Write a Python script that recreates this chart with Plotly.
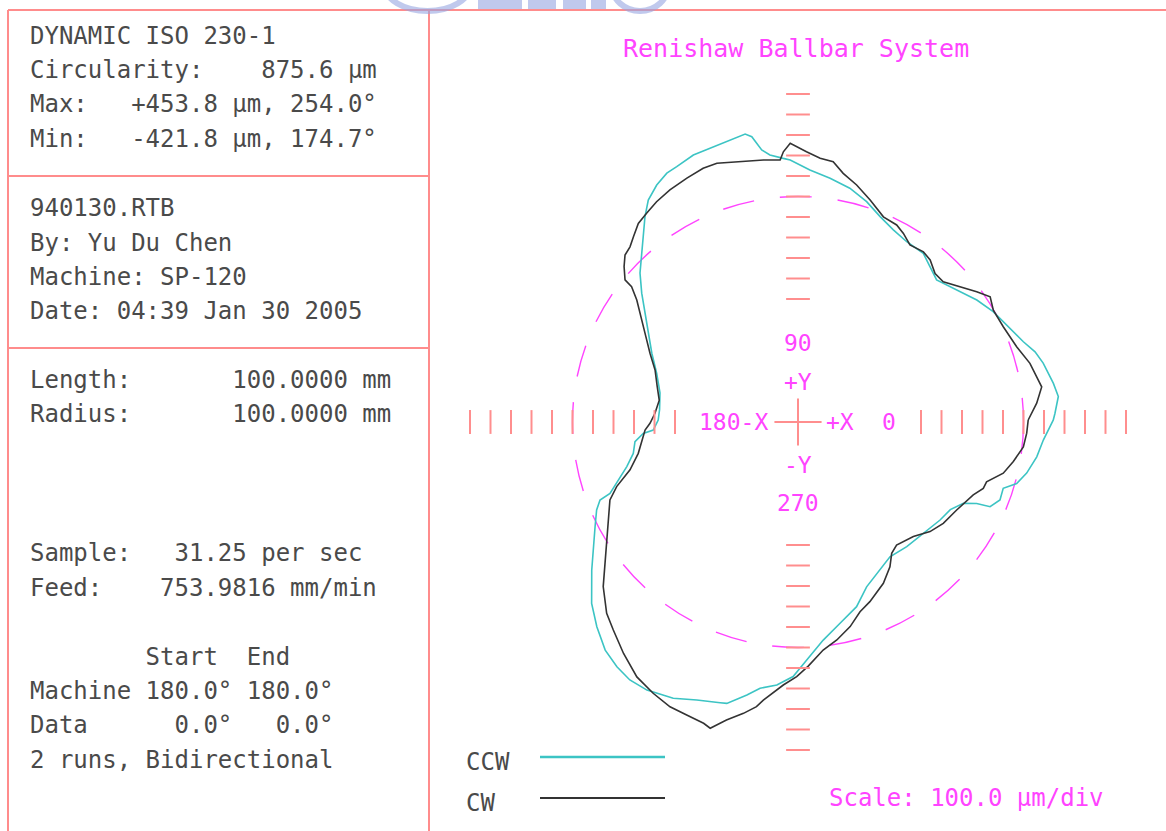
import numpy as np
import plotly.graph_objects as go

W, H = 1166, 831

# ---------------- data ----------------
# radial error in micrometres versus angle in degrees
ccw_angle = [0.4, 1.9, 5.6, 8.6, 13.5, 16.5, 19.6, 24.9, 29.5, 34.3,
             39.7, 45.7, 49.6, 53.4, 58.9, 63.6, 68.2, 72.7, 77.5, 82.5,
             87.3, 91.7, 93.2, 96.0, 97.6, 99.2, 100.4, 103.6, 107.8, 111.4,
             115.4, 117.8, 120.8, 124.0, 126.7, 129.3, 132.8, 136.7, 140.5, 144.6,
             149.4, 154.8, 161.0, 168.1, 174.9, 179.2, 183.2, 184.2, 186.9, 190.8,
             194.6, 198.7, 200.8, 201.5, 203.6, 207.3, 211.4, 215.7, 221.3, 225.5,
             229.8, 233.5, 236.9, 240.6, 245.7, 250.0, 254.5, 255.8, 259.4, 261.9,
             265.4, 268.9, 272.1, 276.6, 281.8, 287.6, 292.6, 297.5, 304.3, 311.1,
             318.4, 325.4, 330.1, 333.8, 335.5, 336.2, 338.9, 342.1, 344.3, 347.4,
             351.7, 355.8]
ccw_error = [145, 154, 176, 160, 130, 106, 67, 22, -6, -44,
             -93, -132, -106, -75, -73, -54, -21, 26, 68, 99,
             131, 179, 188, 210, 239, 310, 328, 315, 302, 299,
             279, 272, 246, 206, 149, 90, 22, -41, -112, -184,
             -251, -312, -371, -412, -422, -418, -393, -343, -299, -282,
             -237, -166, -119, -62, -28, 14, 69, 139, 240, 300,
             357, 385, 402, 401, 379, 343, 321, 316, 255, 212,
             187, 142, 62, -29, -97, -155, -229, -268, -304, -293,
             -282, -258, -243, -201, -142, -76, -44, -48, 8, 43,
             77, 100]

cw_angle = [0.5, 1.3, 4.5, 8.2, 14.2, 19.0, 24.9, 29.8, 33.1, 36.1,
            39.9, 44.0, 47.3, 50.8, 53.6, 57.7, 60.8, 63.4, 67.4, 72.0,
            76.1, 79.7, 82.3, 85.2, 88.2, 91.6, 93.1, 93.9, 97.5, 101.9,
            107.4, 110.5, 114.5, 118.9, 122.7, 125.9, 128.8, 131.6, 133.8, 136.0,
            138.2, 140.6, 140.9, 142.9, 145.5, 148.4, 151.5, 155.1, 160.0, 165.9,
            171.1, 176.5, 180.5, 183.0, 186.6, 191.1, 195.9, 199.6, 202.5, 207.3,
            211.7, 215.6, 220.2, 225.0, 228.4, 233.0, 237.7, 241.9, 245.8, 249.2,
            252.6, 254.0, 256.5, 259.4, 261.7, 262.9, 264.5, 266.8, 269.7, 272.4,
            276.3, 280.1, 284.3, 288.1, 291.8, 297.9, 302.4, 305.5, 308.7, 315.2,
            320.3, 325.1, 331.0, 337.4, 340.3, 342.4, 346.0, 349.6, 353.7, 357.2]
cw_error = [23, 32, 68, 101, 67, 28, 4, -2, 19, -21,
            -70, -115, -114, -80, -69, -78, -46, -25, -16, 39,
            91, 133, 181, 191, 219, 260, 220, 181, 189, 198,
            223, 221, 207, 193, 177, 158, 143, 109, 84, 73,
            38, -8, -54, -114, -164, -214, -260, -304, -358, -392,
            -415, -401, -378, -353, -333, -306, -248, -161, -107, -59,
            -3, 58, 144, 220, 257, 314, 371, 400, 423, 429,
            440, 454, 395, 346, 303, 267, 230, 185, 142, 92,
            19, -20, -70, -126, -156, -210, -263, -313, -331, -307,
            -263, -236, -215, -174, -140, -135, -68, -32, 6, 17]

series_names = ["CCW", "CW"]
scale_um_per_div = 100.0
reference_divs = 11            # nominal circle drawn at 11 divisions
tick_divs = list(range(6, 17))  # graduation marks on each half-axis
angle_labels = ["0", "90", "180", "270"]

info_block_1 = ["DYNAMIC ISO 230-1",
                "Circularity:    875.6 µm",
                "Max:   +453.8 µm, 254.0°",
                "Min:   -421.8 µm, 174.7°"]
info_block_2 = ["940130.RTB",
                "By: Yu Du Chen",
                "Machine: SP-120",
                "Date: 04:39 Jan 30 2005"]
info_block_3 = ["Length:       100.0000 mm",
                "Radius:       100.0000 mm",
                "Sample:   31.25 per sec",
                "Feed:    753.9816 mm/min",
                "        Start  End",
                "Machine 180.0° 180.0°",
                "Data      0.0°   0.0°",
                "2 runs, Bidirectional"]
title_text = "Renishaw Ballbar System"
scale_text = "Scale: 100.0 µm/div"

# ---------------- styling ----------------
FONT = "DejaVu Sans Mono"
MAG = "#ff44ff"
TICK = "#ff8e8e"
FRAME = "#ff8c8c"
GREY = "#4a4a4a"
CYAN = "#3cc4c4"
DARK = "#333333"

PX_PER_UNIT = 0.205            # 100 units (1 div) = 20.5 px
CX, CY = 798, 422              # pixel position of centre
x_lo = (430 - CX) / PX_PER_UNIT
x_hi = (W - CX) / PX_PER_UNIT
y_hi = CY / PX_PER_UNIT
y_lo = -(H - CY) / PX_PER_UNIT
R0 = reference_divs * scale_um_per_div


def to_xy(angle, err):
    a = np.deg2rad(np.asarray(angle + angle[:1], dtype=float))
    r = R0 + np.asarray(err + err[:1], dtype=float)
    return r * np.cos(a), r * np.sin(a)


fig = go.Figure()
for name, ang, err, col, wd in [("CCW", ccw_angle, ccw_error, CYAN, 1.6),
                                 ("CW", cw_angle, cw_error, DARK, 1.6)]:
    x, y = to_xy(ang, err)
    fig.add_trace(go.Scatter(x=x, y=y, mode="lines", name=name,
                             line=dict(color=col, width=wd),
                             showlegend=False, hoverinfo="skip"))

shapes = []
# nominal (reference) circle
shapes.append(dict(type="circle", xref="x", yref="y", x0=-R0, x1=R0, y0=-R0, y1=R0,
                   line=dict(color=MAG, width=1.4, dash="32px,26px"), layer="below"))
# graduation marks
half = 58
for d in tick_divs:
    v = d * scale_um_per_div
    for s in (-1, 1):
        shapes.append(dict(type="line", xref="x", yref="y", x0=s * v, x1=s * v,
                           y0=-half, y1=half, line=dict(color=TICK, width=2)))
        shapes.append(dict(type="line", xref="x", yref="y", y0=s * v, y1=s * v,
                           x0=-half, x1=half, line=dict(color=TICK, width=2)))
# centre cross
cross = 115
shapes.append(dict(type="line", xref="x", yref="y", x0=-cross, x1=cross, y0=0, y1=0,
                   line=dict(color=TICK, width=2)))
shapes.append(dict(type="line", xref="x", yref="y", x0=0, x1=0, y0=-cross, y1=cross,
                   line=dict(color=TICK, width=2)))


def pline(x0, y0, x1, y1, color, width):
    shapes.append(dict(type="line", xref="paper", yref="paper",
                       x0=x0 / W, x1=x1 / W, y0=1 - y0 / H, y1=1 - y1 / H,
                       line=dict(color=color, width=width)))


# frame
pline(8, 10, W, 10, FRAME, 2)
pline(8, 10, 8, H, FRAME, 2)
pline(429, 10, 429, H, FRAME, 2)
pline(8, 176, 429, 176, FRAME, 2)
pline(8, 348, 429, 348, FRAME, 2)
# legend samples
pline(540, 757, 665, 757, CYAN, 2.5)
pline(540, 798, 665, 798, DARK, 2)

# cropped logo at the very top
LOGO = "rgba(150,165,225,0.6)"
for (a, b, c, d) in [(385, -40, 470, 11), (612, -40, 668, 11)]:
    shapes.append(dict(type="circle", xref="paper", yref="paper",
                       x0=a / W, x1=c / W, y0=1 - b / H, y1=1 - d / H,
                       line=dict(color=LOGO, width=6)))
for (a, c) in [(478, 522), (528, 556), (563, 586), (591, 606)]:
    shapes.append(dict(type="rect", xref="paper", yref="paper",
                       x0=a / W, x1=c / W, y0=1, y1=1 - 9 / H,
                       line=dict(width=0), fillcolor=LOGO))

annotations = []


def ptext(px, py, text, color=GREY, size=24, anchor="left"):
    annotations.append(dict(xref="paper", yref="paper", x=px / W, y=1 - py / H,
                            text=text.replace(" ", "\u00a0"), showarrow=False,
                            xanchor=anchor, yanchor="middle",
                            font=dict(family=FONT, size=size, color=color)))


def dtext(x, y, text, anchor="center", size=23):
    annotations.append(dict(xref="x", yref="y", x=x, y=y, text=text, showarrow=False,
                            xanchor=anchor, yanchor="middle",
                            font=dict(family=FONT, size=size, color=MAG)))


for i, t in enumerate(info_block_1):
    ptext(28, [36, 70, 104, 139][i], t)
for i, t in enumerate(info_block_2):
    ptext(28, [208, 243, 277, 311][i], t)
for i, t in enumerate(info_block_3):
    ptext(28, [380, 414, 553, 588, 657, 691, 725, 760][i], t)

ptext(796, 48, title_text, color=MAG, size=25, anchor="center")
ptext(827, 798, scale_text, color=MAG, size=24)
ptext(464, 762, series_names[0], size=24)
ptext(464, 803, series_names[1], size=24)

# axis labels around the centre
dtext(0, 385, angle_labels[1])
dtext(0, 195, "+Y")
dtext(-135, 0, angle_labels[2] + "-X", anchor="right")
dtext(205, 0, "+X")
dtext(444, 0, angle_labels[0])
dtext(0, -210, "-Y")
dtext(0, -395, angle_labels[3])

fig.update_layout(
    width=W, height=H, autosize=False,
    margin=dict(l=0, r=0, t=0, b=0),
    paper_bgcolor="white", plot_bgcolor="rgba(0,0,0,0)",
    xaxis=dict(domain=[430 / W, 1], range=[x_lo, x_hi], visible=False, fixedrange=True),
    yaxis=dict(domain=[0, 1], range=[y_lo, y_hi], visible=False, fixedrange=True),
    shapes=shapes, annotations=annotations, showlegend=False,
)

fig.write_html("out.html",
               config={"displayModeBar": False},
               post_script="document.body.style.margin='0';"
                           "document.body.style.overflow='hidden';")
